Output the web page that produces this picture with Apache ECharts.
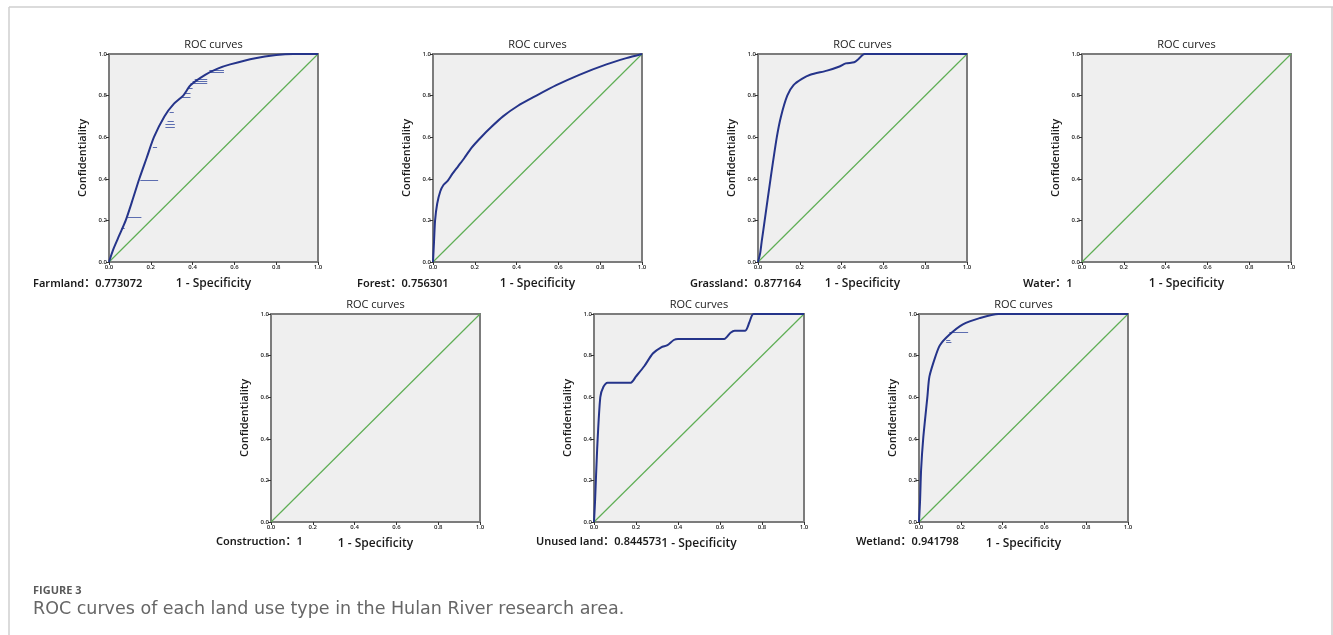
<!DOCTYPE html>
<html>
<head>
<meta charset="utf-8">
<title>ROC curves</title>
<script src="https://cdn.jsdelivr.net/npm/echarts@6/dist/echarts.min.js"></script>
<style>
  html, body { margin: 0; padding: 0; background: #ffffff; }
  #chart { width: 1333px; height: 635px; }
</style>
</head>
<body>
<div id="chart"></div>
<script>
// Land use types and their AUC values
const landTypes = ['Farmland', 'Forest', 'Grassland', 'Water', 'Construction', 'Unused land', 'Wetland'];
const aucValues = [0.773072, 0.756301, 0.877164, 1, 1, 0.844573, 0.941798];

// ROC curve points: [1 - specificity, sensitivity]
const farmlandROC = [[0,0],[0.02,0.06],[0.05,0.13],[0.08,0.2],[0.11,0.29],[0.145,0.4],[0.18,0.5],[0.215,0.6],[0.265,0.7],[0.31,0.76],[0.355,0.8],[0.39,0.85],[0.46,0.9],[0.52,0.93],[0.58,0.95],[0.7,0.98],[0.8,0.995],[0.88,1],[1,1]];
const forestROC = [[0,0],[0.005,0.1],[0.01,0.2],[0.02,0.28],[0.035,0.34],[0.05,0.37],[0.07,0.39],[0.09,0.42],[0.12,0.46],[0.15,0.5],[0.185,0.55],[0.23,0.6],[0.28,0.65],[0.335,0.7],[0.405,0.75],[0.495,0.8],[0.59,0.85],[0.7,0.9],[0.83,0.95],[0.925,0.98],[1,1]];
const grasslandROC = [[0,0],[0.01,0.04],[0.018,0.1],[0.032,0.2],[0.06,0.4],[0.09,0.6],[0.11,0.7],[0.14,0.8],[0.17,0.85],[0.21,0.88],[0.25,0.9],[0.33,0.92],[0.39,0.94],[0.42,0.955],[0.46,0.96],[0.48,0.975],[0.51,1],[1,1]];
const waterROC = [];
const constructionROC = [];
const unusedROC = [[0,0],[0.005,0.1],[0.015,0.35],[0.03,0.6],[0.045,0.65],[0.065,0.67],[0.175,0.67],[0.2,0.7],[0.24,0.75],[0.28,0.81],[0.32,0.84],[0.35,0.85],[0.38,0.875],[0.4,0.88],[0.62,0.88],[0.65,0.91],[0.67,0.92],[0.72,0.92],[0.74,0.96],[0.76,1],[1,1]];
const wetlandROC = [[0,0],[0.005,0.1],[0.01,0.25],[0.02,0.4],[0.04,0.6],[0.05,0.7],[0.08,0.8],[0.1,0.85],[0.145,0.9],[0.21,0.95],[0.29,0.98],[0.38,1],[1,1]];

// Tied-score steps drawn as short horizontal strokes: [sensitivity, from, to]
const farmlandTies = [[0.16,0.06,0.075],[0.215,0.09,0.155],[0.395,0.15,0.235],[0.55,0.21,0.23],[0.65,0.27,0.315],[0.66,0.27,0.315],[0.675,0.28,0.31],[0.72,0.29,0.31],[0.79,0.35,0.39],[0.81,0.36,0.39],[0.835,0.38,0.4],[0.86,0.39,0.47],[0.87,0.4,0.47],[0.88,0.41,0.47],[0.91,0.48,0.55],[0.92,0.48,0.55]];
const wetlandTies = [[0.91,0.145,0.235],[0.875,0.13,0.15],[0.865,0.13,0.155]];

const rocCurves = [farmlandROC, forestROC, grasslandROC, waterROC, constructionROC, unusedROC, wetlandROC];
const tieSteps = [farmlandTies, [], [], [], [], [], wetlandTies];
// chance line endpoints
const chanceLine = [[0, 0], [1, 1]];

// Panel placement: plot box and where the AUC label sits
const panels = [
  { left: 109, top: 54,  width: 209, height: 208, labelX: 33,  labelY: 284 },
  { left: 433, top: 54,  width: 209, height: 208, labelX: 357, labelY: 284 },
  { left: 758, top: 54,  width: 209, height: 208, labelX: 690, labelY: 284 },
  { left: 1082, top: 54, width: 209, height: 208, labelX: 1023, labelY: 284 },
  { left: 271, top: 314, width: 209, height: 208, labelX: 216, labelY: 542 },
  { left: 594, top: 314, width: 210, height: 208, labelX: 536, labelY: 542 },
  { left: 919, top: 314, width: 209, height: 208, labelX: 856, labelY: 542 }
];

const FONT = '"Open Sans", "Noto Sans", "Noto Sans CJK SC", sans-serif';
const LABEL_FONT = '"Noto Sans", "Noto Sans CJK SC", sans-serif';

const grids = [], xAxes = [], yAxes = [], series = [], graphics = [];

panels.forEach((p, i) => {
  grids.push({
    left: p.left, top: p.top, width: p.width, height: p.height,
    show: true, backgroundColor: '#efefef', borderColor: '#7c7c7c', borderWidth: 2
  });
  const axisCommon = {
    type: 'value', gridIndex: i, min: 0, max: 1, interval: 0.2,
    axisLine: { show: false },
    axisTick: { show: true, inside: false, length: 3, lineStyle: { color: '#333', width: 1 } },
    splitLine: { show: false },
    axisLabel: { fontSize: 6, color: '#222', margin: 2, fontFamily: FONT, fontWeight: 600,
                 formatter: v => v.toFixed(1), showMinLabel: true, showMaxLabel: true },
    nameLocation: 'middle',
    nameTextStyle: { fontFamily: FONT, color: '#1a1a1a', fontWeight: 600 }
  };
  xAxes.push(Object.assign({}, axisCommon, {
    name: '1 - Specificity', nameGap: 16,
    nameTextStyle: Object.assign({}, axisCommon.nameTextStyle, { fontSize: 12 })
  }));
  yAxes.push(Object.assign({}, axisCommon, {
    name: 'Confidentiality', nameGap: 21,
    nameTextStyle: Object.assign({}, axisCommon.nameTextStyle, { fontSize: 11 })
  }));

  // chance diagonal
  series.push({
    type: 'lines', coordinateSystem: 'cartesian2d', xAxisIndex: i, yAxisIndex: i,
    silent: true, z: 2,
    lineStyle: { color: '#5fae55', width: 1.2, opacity: 1 },
    data: [{ coords: chanceLine }]
  });
  // ROC curve
  if (rocCurves[i].length) {
    series.push({
      type: 'line', xAxisIndex: i, yAxisIndex: i, data: rocCurves[i],
      showSymbol: false, silent: true, z: 4, smooth: 0.25,
      lineStyle: { color: '#25348a', width: 2 }
    });
  }
  // tied steps
  if (tieSteps[i].length) {
    series.push({
      type: 'lines', coordinateSystem: 'cartesian2d', xAxisIndex: i, yAxisIndex: i,
      silent: true, z: 3,
      lineStyle: { color: '#4b5ea8', width: 1.2, opacity: 0.9 },
      data: tieSteps[i].map(t => ({ coords: [[t[1], t[0]], [t[2], t[0]]] }))
    });
  }

  // panel title
  graphics.push({
    type: 'text', x: p.left + p.width / 2, y: p.top - 9,
    style: { text: 'ROC curves', fontSize: 11, fontWeight: 500, fontFamily: FONT, fill: '#1a1a1a',
             textAlign: 'center', textVerticalAlign: 'middle', align: 'center', verticalAlign: 'middle' }
  });
  // AUC label
  graphics.push({
    type: 'text', x: p.labelX, y: p.labelY,
    style: { text: landTypes[i] + '：' + String(aucValues[i]), fontSize: 11, fontWeight: 600,
             fontFamily: LABEL_FONT, fill: '#1a1a1a',
             textAlign: 'left', textVerticalAlign: 'middle', align: 'left', verticalAlign: 'middle' }
  });
});

// page frame
const frame = { stroke: '#cfcfcf', lineWidth: 1.5 };
graphics.push({ type: 'line', shape: { x1: 9, y1: 7, x2: 1333, y2: 7 }, style: frame, silent: true });
graphics.push({ type: 'line', shape: { x1: 9, y1: 7, x2: 9, y2: 635 }, style: frame, silent: true });
graphics.push({ type: 'line', shape: { x1: 1332, y1: 7, x2: 1332, y2: 635 }, style: frame, silent: true });

// figure caption
graphics.push({
  type: 'text', x: 33, y: 591,
  style: { text: 'FIGURE 3', fontSize: 11, fontWeight: 'bold', fontFamily: FONT, fill: '#5a5a5a',
           textAlign: 'left', textVerticalAlign: 'middle', align: 'left', verticalAlign: 'middle' }
});
graphics.push({
  type: 'text', x: 33, y: 609,
  style: { text: 'ROC curves of each land use type in the Hulan River research area.', fontSize: 17.5,
           fontFamily: '"DejaVu Sans", sans-serif', fill: '#666666',
           textAlign: 'left', textVerticalAlign: 'middle', align: 'left', verticalAlign: 'middle' }
});

const chart = echarts.init(document.getElementById('chart'), null, { renderer: 'canvas' });
chart.setOption({
  animation: false,
  backgroundColor: '#ffffff',
  grid: grids,
  xAxis: xAxes,
  yAxis: yAxes,
  series: series,
  graphic: graphics
});
</script>
</body>
</html>
